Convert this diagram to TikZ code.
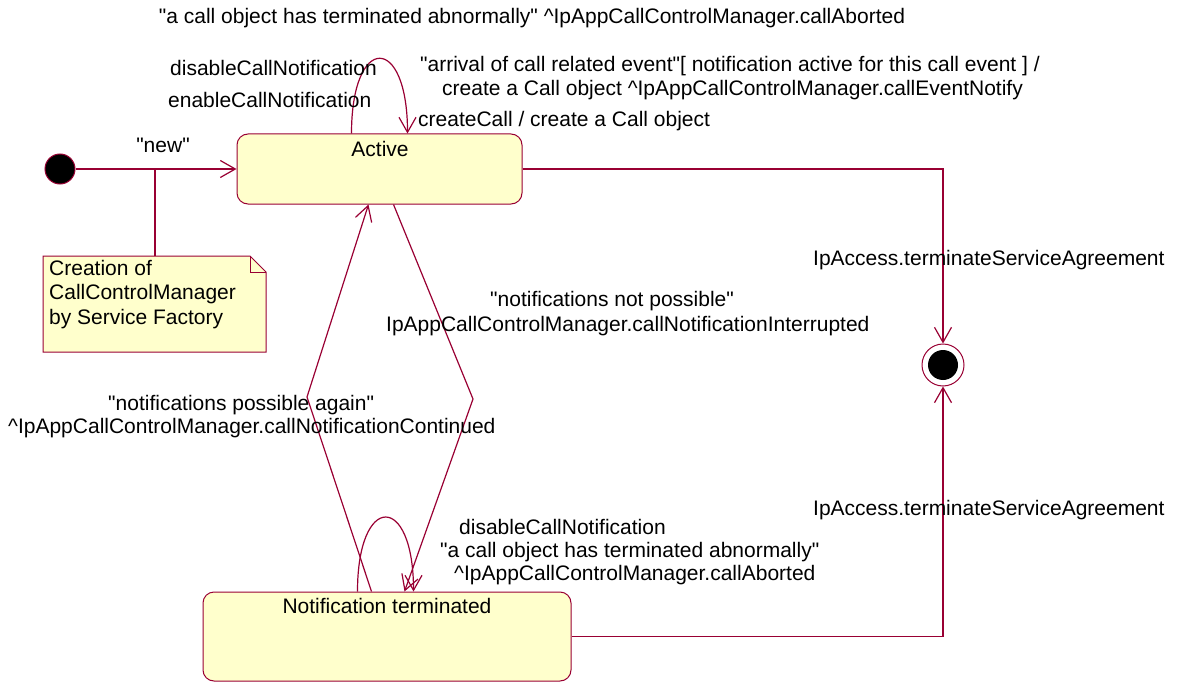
\documentclass[tikz,border=0pt]{standalone}
\usepackage{fontspec}
\setmainfont{Liberation Sans}[Ligatures=TeXOff]
\usetikzlibrary{arrows.meta,calc}
\definecolor{rose}{HTML}{990033}
\definecolor{boxfill}{HTML}{FFFFCC}
\tikzset{
  lbl/.style={inner sep=0pt, anchor=base west, font=\fontsize{21}{24}\selectfont},
  clbl/.style={inner sep=0pt, anchor=base, font=\fontsize{21}{24}\selectfont},
  statebox/.style={draw=rose, fill=boxfill, line width=1pt, rounded corners=11pt, inner sep=0pt},
  conn/.style={draw=rose, line width=1.2pt},
  arr/.style={conn, -{Straight Barb[length=15pt,width=17pt,line width=1.2pt]}},
}
\begin{document}
\begin{tikzpicture}[x=1pt,y=-1pt]
\useasboundingbox (0,0) rectangle (1191,682);

% states
\node[circle, fill=black, draw=rose, line width=1pt, minimum size=30pt, inner sep=0pt] (init) at (60,169) {};
\node[statebox, minimum width=285pt, minimum height=70pt] (active) at (379.5,169) {};
\node[clbl] (activeLbl) at (380,157) {Active};
\node[statebox, minimum width=368pt, minimum height=89pt] (notif) at (387,636.5) {};
\node[clbl] (notifLbl) at (387,613) {Notification terminated};
\node[circle, draw=rose, fill=white, line width=1pt, minimum size=42pt, inner sep=0pt] (final) at (943,365) {};
\node[circle, fill=black, minimum size=30pt, inner sep=0pt] (finalIn) at (final.center) {};

% note
\draw[draw=rose, fill=boxfill, line width=1pt] (43,256) -- (250,256) -- (266,272) -- (266,352) -- (43,352) -- cycle;
\draw[draw=rose, line width=1pt] (250,256) -- (250,272) -- (266,272);
\coordinate (notetop) at (155,256);
\node[inner sep=0pt, anchor=north west, align=left, font=\fontsize{21}{24.5}\selectfont] (notetxt) at (49,260) {Creation of\\CallControlManager\\by Service Factory};

% connectors
\draw[arr] (init) -- (active.west);
\coordinate (notejoin) at (155,169);
\draw[conn] (notetop) -- (notejoin);
\node[clbl] (newLbl) at (163,153) {"new"};

% self loop Active
\draw[arr] ([xshift=115pt]active.north west) .. controls ([xshift=115pt,yshift=100pt]active.north west) and ([xshift=171pt,yshift=100pt]active.north west) .. ([xshift=171pt]active.north west);

% self loop Notification terminated
\draw[arr] ([xshift=155pt]notif.north west) .. controls ([xshift=155pt,yshift=99pt]notif.north west) and ([xshift=211pt,yshift=99pt]notif.north west) .. ([xshift=211pt]notif.north west);

% Active -> Notif
\coordinate (rv) at (473,399);
\draw[arr] ([xshift=157pt]active.south west) -- (rv) -- ([xshift=202pt]notif.north west);
% Notif -> Active
\coordinate (lv) at (307,397);
\draw[arr] ([xshift=169pt]notif.north west) -- (lv) -- ([xshift=132pt]active.south west);

% to final
\draw[arr] (active.east) -| (final.north);
\draw[arr] (notif.east) -| (final.south);

% labels
\node[clbl] (topLbl) at (532,24) {"a call object has terminated abnormally" \textasciicircum IpAppCallControlManager.callAborted};
\node[lbl] (dis1) at (170,76) {disableCallNotification};
\node[lbl] (ena1) at (168,108) {enableCallNotification};
\node[lbl] (arr1) at (420,72) {"arrival of call related event"[ notification active for this call event ] /};
\node[lbl] (arr2) at (442,96) {create a Call object \textasciicircum IpAppCallControlManager.callEventNotify};
\node[lbl] (cc) at (418,127) {createCall / create a Call object};
\node[lbl] (ipa1) at (813,265) {IpAccess.terminateServiceAgreement};
\node[lbl] (nnp1) at (490,306) {"notifications not possible"};
\node[lbl] (nnp2) at (386,331) {IpAppCallControlManager.callNotificationInterrupted};
\node[lbl] (npa1) at (108,410) {"notifications possible again"};
\node[lbl] (npa2) at (8,433) {\textasciicircum IpAppCallControlManager.callNotificationContinued};
\node[lbl] (ipa2) at (813,515) {IpAccess.terminateServiceAgreement};
\node[lbl] (dis2) at (459,534) {disableCallNotification};
\node[lbl] (ab1) at (440,557) {"a call object has terminated abnormally"};
\node[lbl] (ab2) at (454,580) {\textasciicircum IpAppCallControlManager.callAborted};
\end{tikzpicture}
\end{document}
